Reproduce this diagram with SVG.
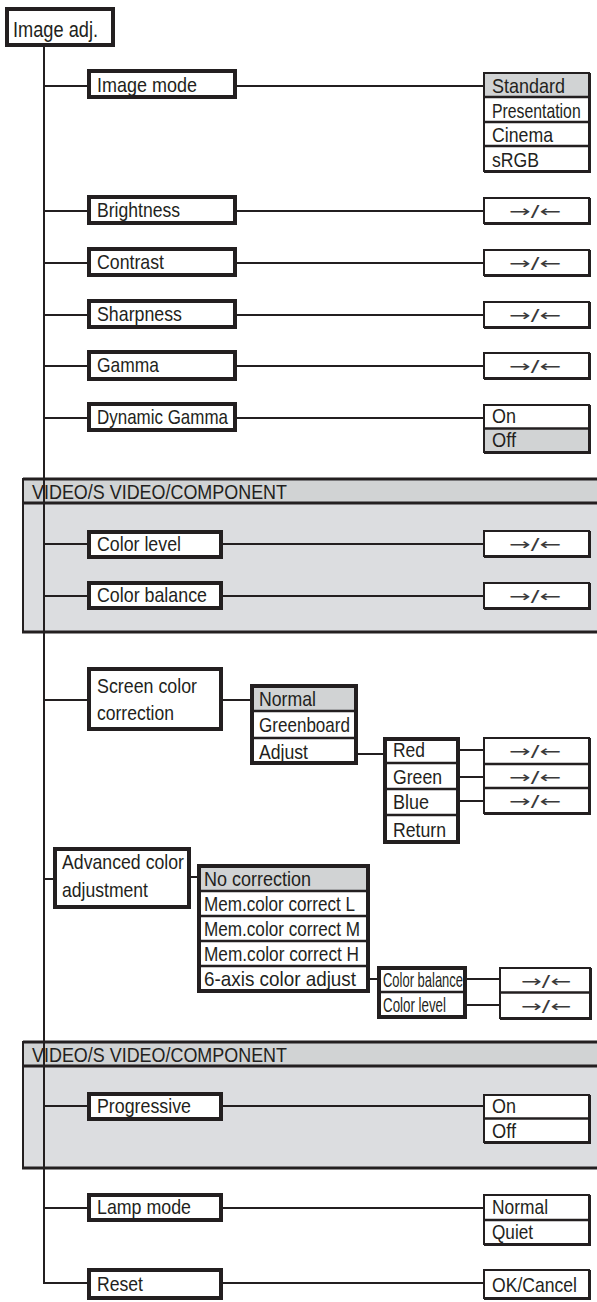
<svg xmlns="http://www.w3.org/2000/svg" width="597" height="1302" viewBox="0 0 597 1302">
<style>
.mb{fill:#fff;stroke:#231f20;stroke-width:4}
.lb{fill:#fff;stroke:#231f20;stroke-width:4}
.vb{fill:#fff;stroke:#231f20;stroke-width:2}
.sh{fill:#231f20}
.gr{fill:#d1d3d4}
.dv{stroke:#231f20;stroke-width:2.5;fill:none}
.ln{stroke:#231f20;stroke-width:2;fill:none}
.t{font-family:"Liberation Sans",Arial,sans-serif;font-size:21px;fill:#231f20}
.a{font-family:"DejaVu Sans","Liberation Sans",sans-serif;font-size:16px;fill:#3a3a3a;text-anchor:middle}
.hd{fill:#d1d3d4}
.bd{fill:#dcdde0}
.pb{stroke:#231f20;stroke-width:3;fill:none}
.pl{stroke:#231f20;stroke-width:2;fill:none}
</style>

<g id="panel1">
<rect class="hd" x="23" y="479" width="574" height="24"/>
<rect class="bd" x="23" y="503" width="574" height="129"/>
<line class="pb" x1="23" y1="479" x2="597" y2="479"/>
<line class="pb" x1="23" y1="503" x2="597" y2="503"/>
<line class="pb" x1="22" y1="632" x2="597" y2="632"/>
<line class="pl" x1="23" y1="478" x2="23" y2="633"/>
<text class="t" x="32" y="499" textLength="255" lengthAdjust="spacingAndGlyphs">VIDEO/S VIDEO/COMPONENT</text>
</g>
<g id="panel2">
<rect class="hd" x="23" y="1042" width="574" height="24"/>
<rect class="bd" x="23" y="1066" width="574" height="102"/>
<line class="pb" x1="23" y1="1042" x2="597" y2="1042"/>
<line class="pb" x1="23" y1="1066" x2="597" y2="1066"/>
<line class="pb" x1="22" y1="1168" x2="597" y2="1168"/>
<line class="pl" x1="23" y1="1041" x2="23" y2="1169"/>
<text class="t" x="32" y="1062" textLength="255" lengthAdjust="spacingAndGlyphs">VIDEO/S VIDEO/COMPONENT</text>
</g>

<g id="connectors">
<path class="ln" d="M44 47V1283H87"/>
<path class="ln" d="M44 86H87M237 86H483"/>
<path class="ln" d="M44 211H87M237 211H483"/>
<path class="ln" d="M44 263H87M237 263H483"/>
<path class="ln" d="M44 315H87M237 315H483"/>
<path class="ln" d="M44 366H87M237 366H483"/>
<path class="ln" d="M44 418H87M237 418H483"/>
<path class="ln" d="M44 544H87M223 544H483"/>
<path class="ln" d="M44 596H87M223 596H483"/>
<path class="ln" d="M44 700H87M223 700H250"/>
<path class="ln" d="M358 754H383"/>
<path class="ln" d="M460 750H483M460 777H483M460 801H483"/>
<path class="ln" d="M44 879H53M191 877H197"/>
<path class="ln" d="M370 979H377M467 979H499M467 1005H499"/>
<path class="ln" d="M44 1106H87M223 1106H483"/>
<path class="ln" d="M44 1208H87M223 1208H483"/>
<path class="ln" d="M223 1283H483"/>
</g>

<g id="imageAdj">
<rect class="mb" x="7" y="9" width="106" height="36"/>
<text class="t" x="13" y="37" style="font-size:22px" textLength="85" lengthAdjust="spacingAndGlyphs">Image adj.</text>
</g>

<g id="imageMode">
<rect class="mb" x="89" y="71" width="146" height="26"/>
<text class="t" x="97" y="92" textLength="100" lengthAdjust="spacingAndGlyphs">Image mode</text>
</g>
<g id="imageModeValues">
<rect class="sh" x="484" y="73" width="107" height="100"/>
<rect class="vb" x="484" y="73" width="105" height="98"/>
<rect class="gr" x="485" y="74" width="103" height="22"/>
<path class="dv" d="M484 97H589M484 122H589M484 146H589"/>
<text class="t" x="492" y="93" textLength="73" lengthAdjust="spacingAndGlyphs">Standard</text>
<text class="t" transform="translate(492 118) scale(0.79 1)" x="0" y="0" style="font-size:20px">Presentation</text>
<text class="t" x="492" y="142" textLength="61" lengthAdjust="spacingAndGlyphs">Cinema</text>
<text class="t" x="492" y="167" textLength="47" lengthAdjust="spacingAndGlyphs">sRGB</text>
</g>

<g id="brightness">
<rect class="mb" x="89" y="197" width="146" height="26"/>
<text class="t" x="97" y="217" textLength="83" lengthAdjust="spacingAndGlyphs">Brightness</text>
</g>
<g id="brightnessValue">
<rect class="sh" x="484" y="198" width="107" height="27"/>
<rect class="vb" x="484" y="198" width="105" height="25"/>
<text class="a" x="535" y="217" textLength="52" lengthAdjust="spacingAndGlyphs">→/←</text>
</g>

<g id="contrast">
<rect class="mb" x="89" y="249" width="146" height="26"/>
<text class="t" x="97" y="269" textLength="67" lengthAdjust="spacingAndGlyphs">Contrast</text>
</g>
<g id="contrastValue">
<rect class="sh" x="484" y="250" width="107" height="27"/>
<rect class="vb" x="484" y="250" width="105" height="25"/>
<text class="a" x="535" y="269" textLength="52" lengthAdjust="spacingAndGlyphs">→/←</text>
</g>

<g id="sharpness">
<rect class="mb" x="89" y="301" width="146" height="26"/>
<text class="t" x="97" y="321" textLength="85" lengthAdjust="spacingAndGlyphs">Sharpness</text>
</g>
<g id="sharpnessValue">
<rect class="sh" x="484" y="302" width="107" height="27"/>
<rect class="vb" x="484" y="302" width="105" height="25"/>
<text class="a" x="535" y="321" textLength="52" lengthAdjust="spacingAndGlyphs">→/←</text>
</g>

<g id="gamma">
<rect class="mb" x="89" y="352" width="146" height="27"/>
<text class="t" x="97" y="372" textLength="62" lengthAdjust="spacingAndGlyphs">Gamma</text>
</g>
<g id="gammaValue">
<rect class="sh" x="484" y="353" width="107" height="27"/>
<rect class="vb" x="484" y="353" width="105" height="25"/>
<text class="a" x="535" y="372" textLength="52" lengthAdjust="spacingAndGlyphs">→/←</text>
</g>

<g id="dynamicGamma">
<rect class="mb" x="89" y="404" width="146" height="26"/>
<text class="t" x="97" y="424" textLength="131" lengthAdjust="spacingAndGlyphs">Dynamic Gamma</text>
</g>
<g id="dynamicGammaValues">
<rect class="sh" x="484" y="405" width="107" height="49"/>
<rect class="vb" x="484" y="405" width="105" height="47"/>
<rect class="gr" x="485" y="429" width="103" height="22"/>
<path class="dv" d="M484 428.5H589"/>
<text class="t" x="492" y="423" textLength="24" lengthAdjust="spacingAndGlyphs">On</text>
<text class="t" x="492" y="447" textLength="24" lengthAdjust="spacingAndGlyphs">Off</text>
</g>

<g id="colorLevel">
<rect class="mb" x="89" y="532" width="132" height="25"/>
<text class="t" x="97" y="551" textLength="84" lengthAdjust="spacingAndGlyphs">Color level</text>
</g>
<g id="colorLevelValue">
<rect class="sh" x="484" y="531" width="107" height="27"/>
<rect class="vb" x="484" y="531" width="105" height="25"/>
<text class="a" x="535" y="550" textLength="52" lengthAdjust="spacingAndGlyphs">→/←</text>
</g>

<g id="colorBalance">
<rect class="mb" x="89" y="583" width="132" height="25"/>
<text class="t" x="97" y="602" textLength="110" lengthAdjust="spacingAndGlyphs">Color balance</text>
</g>
<g id="colorBalanceValue">
<rect class="sh" x="484" y="583" width="107" height="27"/>
<rect class="vb" x="484" y="583" width="105" height="25"/>
<text class="a" x="535" y="602" textLength="52" lengthAdjust="spacingAndGlyphs">→/←</text>
</g>

<g id="screenColor">
<rect class="mb" x="89" y="669" width="132" height="60"/>
<text class="t" x="97" y="693" textLength="100" lengthAdjust="spacingAndGlyphs">Screen color</text>
<text class="t" x="97" y="720" textLength="77" lengthAdjust="spacingAndGlyphs">correction</text>
</g>
<g id="screenColorValues">
<rect class="lb" x="252" y="686" width="104" height="77"/>
<rect class="gr" x="254" y="688" width="100" height="22"/>
<path class="dv" d="M252 711H356M252 738H356"/>
<text class="t" x="259" y="706" textLength="57" lengthAdjust="spacingAndGlyphs">Normal</text>
<text class="t" x="259" y="732" textLength="91" lengthAdjust="spacingAndGlyphs">Greenboard</text>
<text class="t" x="259" y="759" textLength="49" lengthAdjust="spacingAndGlyphs">Adjust</text>
</g>
<g id="adjustValues">
<rect class="lb" x="385" y="739" width="73" height="103"/>
<path class="dv" d="M385 763H458M385 789H458M385 815H458"/>
<text class="t" x="393" y="757" textLength="32" lengthAdjust="spacingAndGlyphs">Red</text>
<text class="t" x="393" y="784" textLength="49" lengthAdjust="spacingAndGlyphs">Green</text>
<text class="t" x="393" y="809" textLength="36" lengthAdjust="spacingAndGlyphs">Blue</text>
<text class="t" x="393" y="837" textLength="53" lengthAdjust="spacingAndGlyphs">Return</text>
</g>
<g id="rgbValues">
<rect class="sh" x="484" y="738" width="107" height="77"/>
<rect class="vb" x="484" y="738" width="105" height="75"/>
<path class="dv" d="M484 764H589M484 788H589"/>
<text class="a" x="535" y="757" textLength="52" lengthAdjust="spacingAndGlyphs">→/←</text>
<text class="a" x="535" y="783" textLength="52" lengthAdjust="spacingAndGlyphs">→/←</text>
<text class="a" x="535" y="807" textLength="52" lengthAdjust="spacingAndGlyphs">→/←</text>
</g>

<g id="advancedColor">
<rect class="mb" x="55" y="849" width="134" height="58"/>
<text class="t" x="62" y="869" textLength="122" lengthAdjust="spacingAndGlyphs">Advanced color</text>
<text class="t" x="62" y="897" textLength="86" lengthAdjust="spacingAndGlyphs">adjustment</text>
</g>
<g id="advancedColorValues">
<rect class="lb" x="199" y="866" width="169" height="125"/>
<rect class="gr" x="201" y="868" width="165" height="22"/>
<path class="dv" d="M199 891H368M199 916H368M199 941H368M199 966H368"/>
<text class="t" x="204" y="886" textLength="107" lengthAdjust="spacingAndGlyphs">No correction</text>
<text class="t" x="204" y="911" textLength="151" lengthAdjust="spacingAndGlyphs">Mem.color correct L</text>
<text class="t" x="204" y="936" textLength="156" lengthAdjust="spacingAndGlyphs">Mem.color correct M</text>
<text class="t" x="204" y="961" textLength="155" lengthAdjust="spacingAndGlyphs">Mem.color correct H</text>
<text class="t" x="204" y="986" textLength="152" lengthAdjust="spacingAndGlyphs">6-axis color adjust</text>
</g>
<g id="sixAxisValues">
<rect class="lb" x="379" y="968" width="86" height="49"/>
<path class="dv" d="M379 992H465"/>
<text class="t" x="383" y="987" textLength="80" lengthAdjust="spacingAndGlyphs">Color balance</text>
<text class="t" x="383" y="1012" textLength="63" lengthAdjust="spacingAndGlyphs">Color level</text>
</g>
<g id="sixAxisAdjust">
<rect class="sh" x="500" y="968" width="92" height="52"/>
<rect class="vb" x="500" y="968" width="90" height="50"/>
<path class="dv" d="M500 992.5H590"/>
<text class="a" x="546" y="987" textLength="50" lengthAdjust="spacingAndGlyphs">→/←</text>
<text class="a" x="546" y="1012" textLength="50" lengthAdjust="spacingAndGlyphs">→/←</text>
</g>

<g id="progressive">
<rect class="mb" x="89" y="1094" width="132" height="25"/>
<text class="t" x="97" y="1113" textLength="94" lengthAdjust="spacingAndGlyphs">Progressive</text>
</g>
<g id="progressiveValues">
<rect class="sh" x="484" y="1095" width="107" height="49"/>
<rect class="vb" x="484" y="1095" width="105" height="47"/>
<path class="dv" d="M484 1118.5H589"/>
<text class="t" x="492" y="1113" textLength="24" lengthAdjust="spacingAndGlyphs">On</text>
<text class="t" x="492" y="1138" textLength="24" lengthAdjust="spacingAndGlyphs">Off</text>
</g>

<g id="lampMode">
<rect class="mb" x="89" y="1195" width="132" height="25"/>
<text class="t" x="97" y="1214" textLength="94" lengthAdjust="spacingAndGlyphs">Lamp mode</text>
</g>
<g id="lampModeValues">
<rect class="sh" x="484" y="1195" width="107" height="51"/>
<rect class="vb" x="484" y="1195" width="105" height="49"/>
<path class="dv" d="M484 1220H589"/>
<text class="t" x="492" y="1214" textLength="56" lengthAdjust="spacingAndGlyphs">Normal</text>
<text class="t" x="492" y="1239" textLength="41" lengthAdjust="spacingAndGlyphs">Quiet</text>
</g>

<g id="reset">
<rect class="mb" x="89" y="1270" width="132" height="28"/>
<text class="t" x="97" y="1291" textLength="46" lengthAdjust="spacingAndGlyphs">Reset</text>
</g>
<g id="resetValue">
<rect class="sh" x="484" y="1270" width="107" height="30"/>
<rect class="vb" x="484" y="1270" width="105" height="28"/>
<text class="t" x="492" y="1292" textLength="85" lengthAdjust="spacingAndGlyphs">OK/Cancel</text>
</g>
</svg>
